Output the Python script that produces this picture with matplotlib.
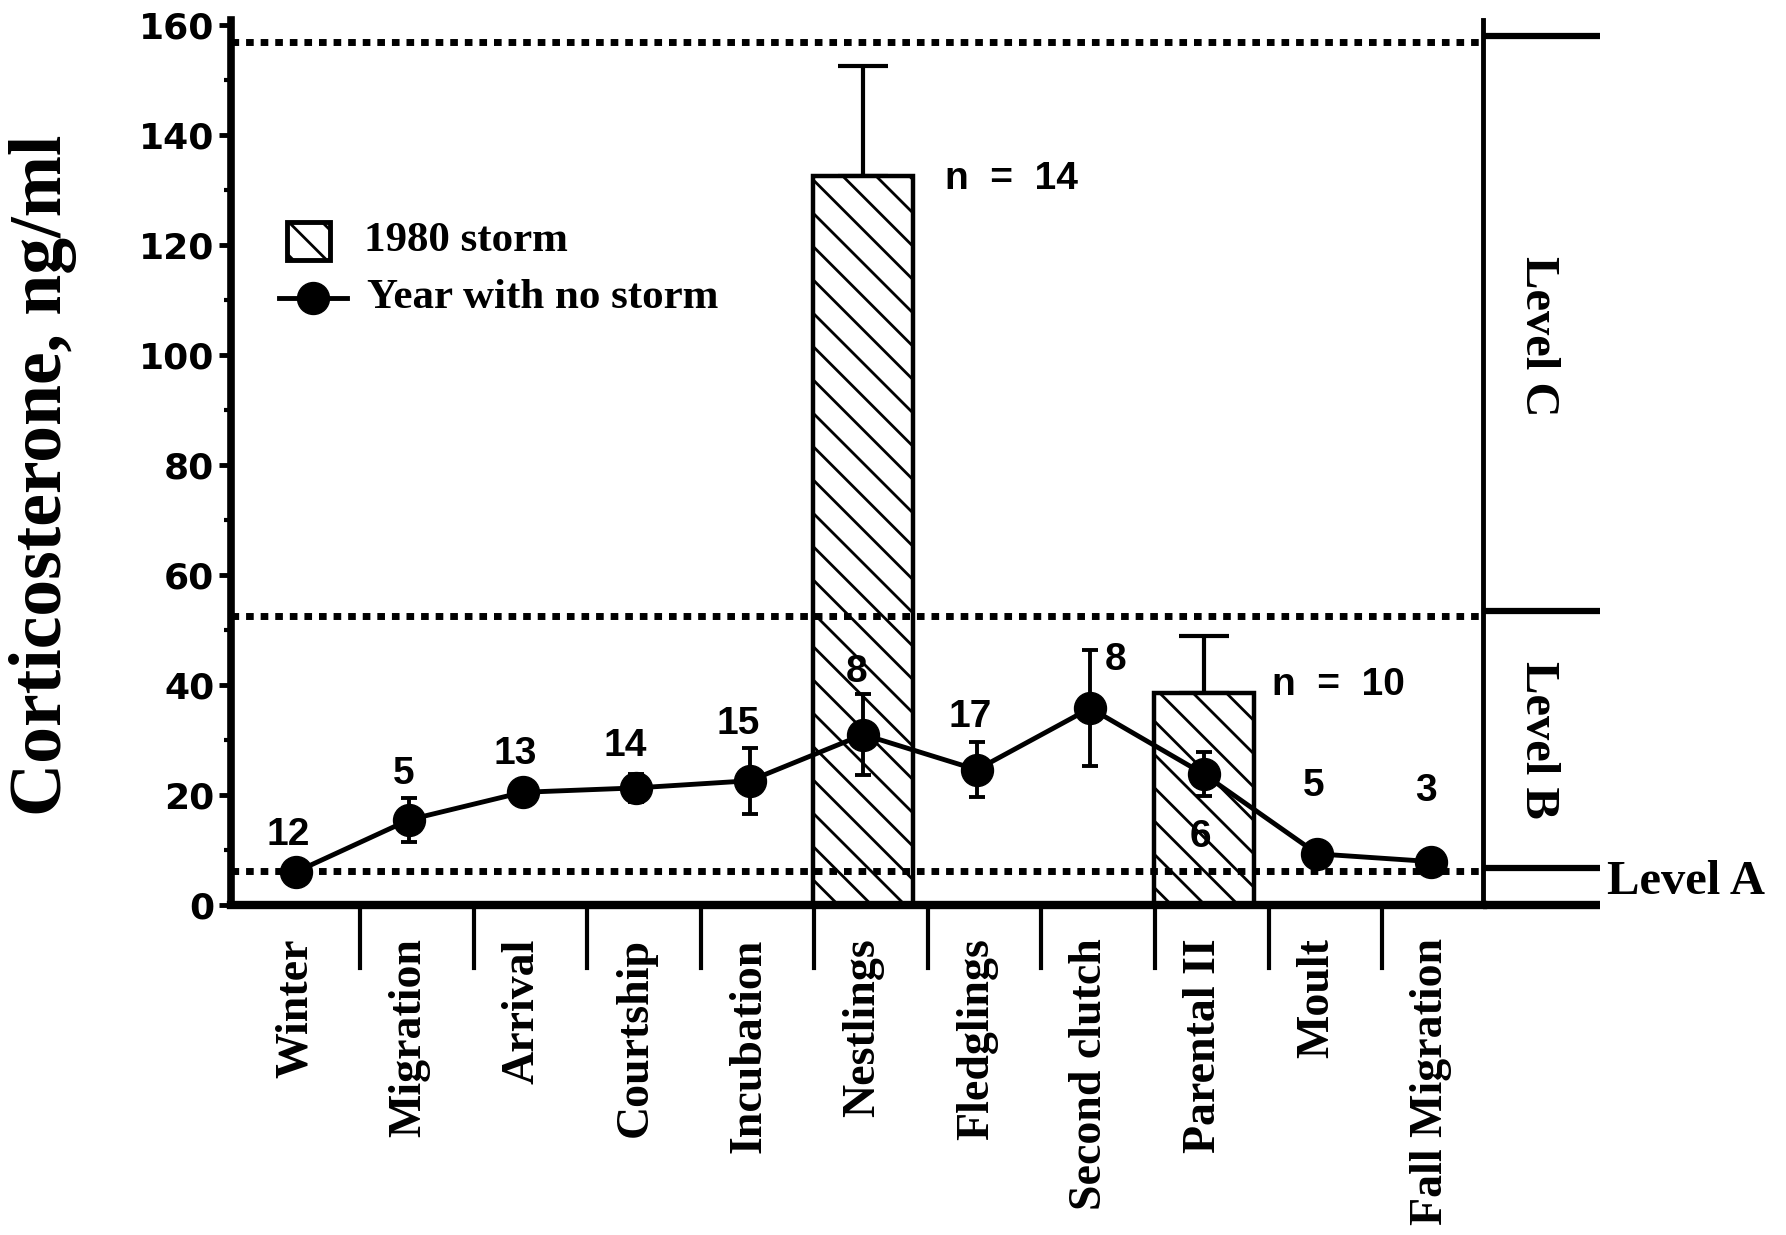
import matplotlib
matplotlib.use("Agg")
import matplotlib.pyplot as plt
import numpy as np
from matplotlib.patches import Rectangle
from matplotlib.lines import Line2D

plt.rcParams['hatch.linewidth'] = 2.0

# data
stages = ["Winter", "Migration", "Arrival", "Courtship", "Incubation", "Nestlings",
          "Fledglings", "Second clutch", "Parental II", "Moult", "Fall Migration"]
no_storm_mean = [6.0, 15.5, 20.5, 21.3, 22.6, 31.0, 24.6, 35.8, 23.8, 9.3, 7.9]
no_storm_err = [0.8, 4.0, 1.0, 2.5, 6.0, 7.3, 5.0, 10.5, 4.0, 1.0, 1.0]
no_storm_n = ["12", "5", "13", "14", "15", "8", "17", "8", "6", "5", "3"]

storm_stage = ["Nestlings", "Parental II"]
storm_mean = [132.5, 38.5]
storm_err = [20.0, 10.5]
storm_n = ["n = 14", "n = 10"]

level_lines = [6.2, 52.6, 157.0]      # dotted thresholds
level_ticks = [6.8, 53.4, 158.0]      # bracket ticks on the right
level_names = ["Level A", "Level B", "Level C"]

x = np.arange(len(stages))

fig = plt.figure(figsize=(17.86, 12.35), dpi=100)
ax = fig.add_axes([0.1293, 0.2672, 0.7011, 0.7168])

serif = ['Liberation Serif', 'DejaVu Serif']
narrow = ['Liberation Sans Narrow', 'Liberation Sans', 'DejaVu Sans']

# storm bars
bx = [stages.index(s) for s in storm_stage]
ax.bar(bx, storm_mean, width=0.88, color='white', edgecolor='black', hatch='\\',
       linewidth=3.2, zorder=2)
ax.errorbar(bx, storm_mean, yerr=[[0] * len(storm_err), storm_err], fmt='none',
            ecolor='black', elinewidth=3, capsize=18, capthick=3, zorder=1)

# dotted level lines
for y in level_lines:
    ax.axhline(y, color='black', lw=5, linestyle=(0, (1.1, 1.0)), zorder=3)

# no-storm series
ax.errorbar(x, no_storm_mean, yerr=no_storm_err, fmt='-o', color='black', ms=23,
            lw=3.5, elinewidth=2.8, capsize=5.5, capthick=2.8, zorder=5)

# sample sizes
dx = [-0.07, -0.05, -0.07, -0.1, -0.1, -0.06, -0.06, 0.22, -0.03, -0.03, -0.04]
dy = [6.8, 8.3, 7.0, 7.7, 10.3, 11.4, 9.6, 8.7, -11.4, 12.4, 12.8]
for i, n in enumerate(no_storm_n):
    ax.text(x[i] + dx[i], no_storm_mean[i] + dy[i], n, ha='center', va='center',
            fontsize=28, fontweight='bold', family=narrow, zorder=6)
sdx = [0.72, 0.6]
sdy = [-0.4, 1.5]
for i, n in enumerate(storm_n):
    ax.text(bx[i] + sdx[i], storm_mean[i] + sdy[i], n.replace(" ", "  "),
            ha='left', va='center', fontsize=28, fontweight='bold', family=narrow)

ax.set_xlim(-0.57, 10.46)
ax.set_ylim(0, 161)

# axes styling
ax.spines['top'].set_visible(False)
ax.spines['left'].set_linewidth(5.5)
ax.spines['bottom'].set_linewidth(6)
ax.spines['right'].set_linewidth(3.5)
ax.set_yticks(np.arange(0, 161, 20))
ax.set_yticks(np.arange(10, 160, 20), minor=True)
ax.tick_params(axis='y', which='major', direction='out', length=9, width=3.5, pad=3,
               labelsize=26)
ax.tick_params(axis='y', which='minor', direction='out', length=5, width=3)
for lab in ax.get_yticklabels():
    lab.set_fontweight('heavy')
    lab.set_family('DejaVu Sans')

ax.set_xticks(x)
ax.set_xticklabels(stages, rotation=90, va='top', ha='center', fontsize=33,
                   fontweight='bold', family=serif)
ax.tick_params(axis='x', length=0, pad=24)

# stage separators under the axis
trans = ax.get_xaxis_transform()
for s in x[:-1] + 0.57:
    ax.plot([s, s], [0, -0.071], color='black', lw=3, transform=trans, clip_on=False)

# right-hand level bracket
ytrans = ax.get_yaxis_transform()
ax.plot([1.0, 1.0935], [0, 0], color='black', lw=6, transform=ytrans, clip_on=False,
        solid_capstyle='butt')
for y in level_ticks:
    ax.plot([1.0, 1.0935], [y, y], color='black', lw=4.5, transform=ytrans,
            clip_on=False, solid_capstyle='butt')
ax.text(10.94, 103.5, level_names[2], rotation=-90, ha='center', va='center',
        fontsize=35, fontweight='bold', family=serif)
ax.text(10.94, 30.0, level_names[1], rotation=-90, ha='center', va='center',
        fontsize=35, fontweight='bold', family=serif)
ax.text(11.55, 4.1, level_names[0], ha='left', va='center', fontsize=35,
        fontweight='bold', family=serif, clip_on=False)

# legend drawn by hand
ax.add_patch(Rectangle((0.0446, 0.729), 0.0346, 0.043, transform=ax.transAxes,
                       facecolor='white', edgecolor='black', hatch='\\', lw=3.5))
ax.text(0.1065, 0.7497, "1980 storm", transform=ax.transAxes, va='center',
        fontsize=31, fontweight='bold', family=serif)
ax.add_line(Line2D([0.0382, 0.0928], [0.6854, 0.6854], transform=ax.transAxes,
                   color='black', lw=3.5))
ax.add_line(Line2D([0.0655], [0.6854], transform=ax.transAxes, marker='o', ms=23,
                   color='black'))
ax.text(0.1083, 0.6854, "Year with no storm", transform=ax.transAxes, va='center',
        fontsize=31, fontweight='bold', family=serif)

fig.text(0.024, 0.615, "Corticosterone, ng/ml", rotation=90, ha='center',
         va='center', fontsize=53, fontweight='bold', family=serif)

fig.savefig('out.png', dpi=100)
